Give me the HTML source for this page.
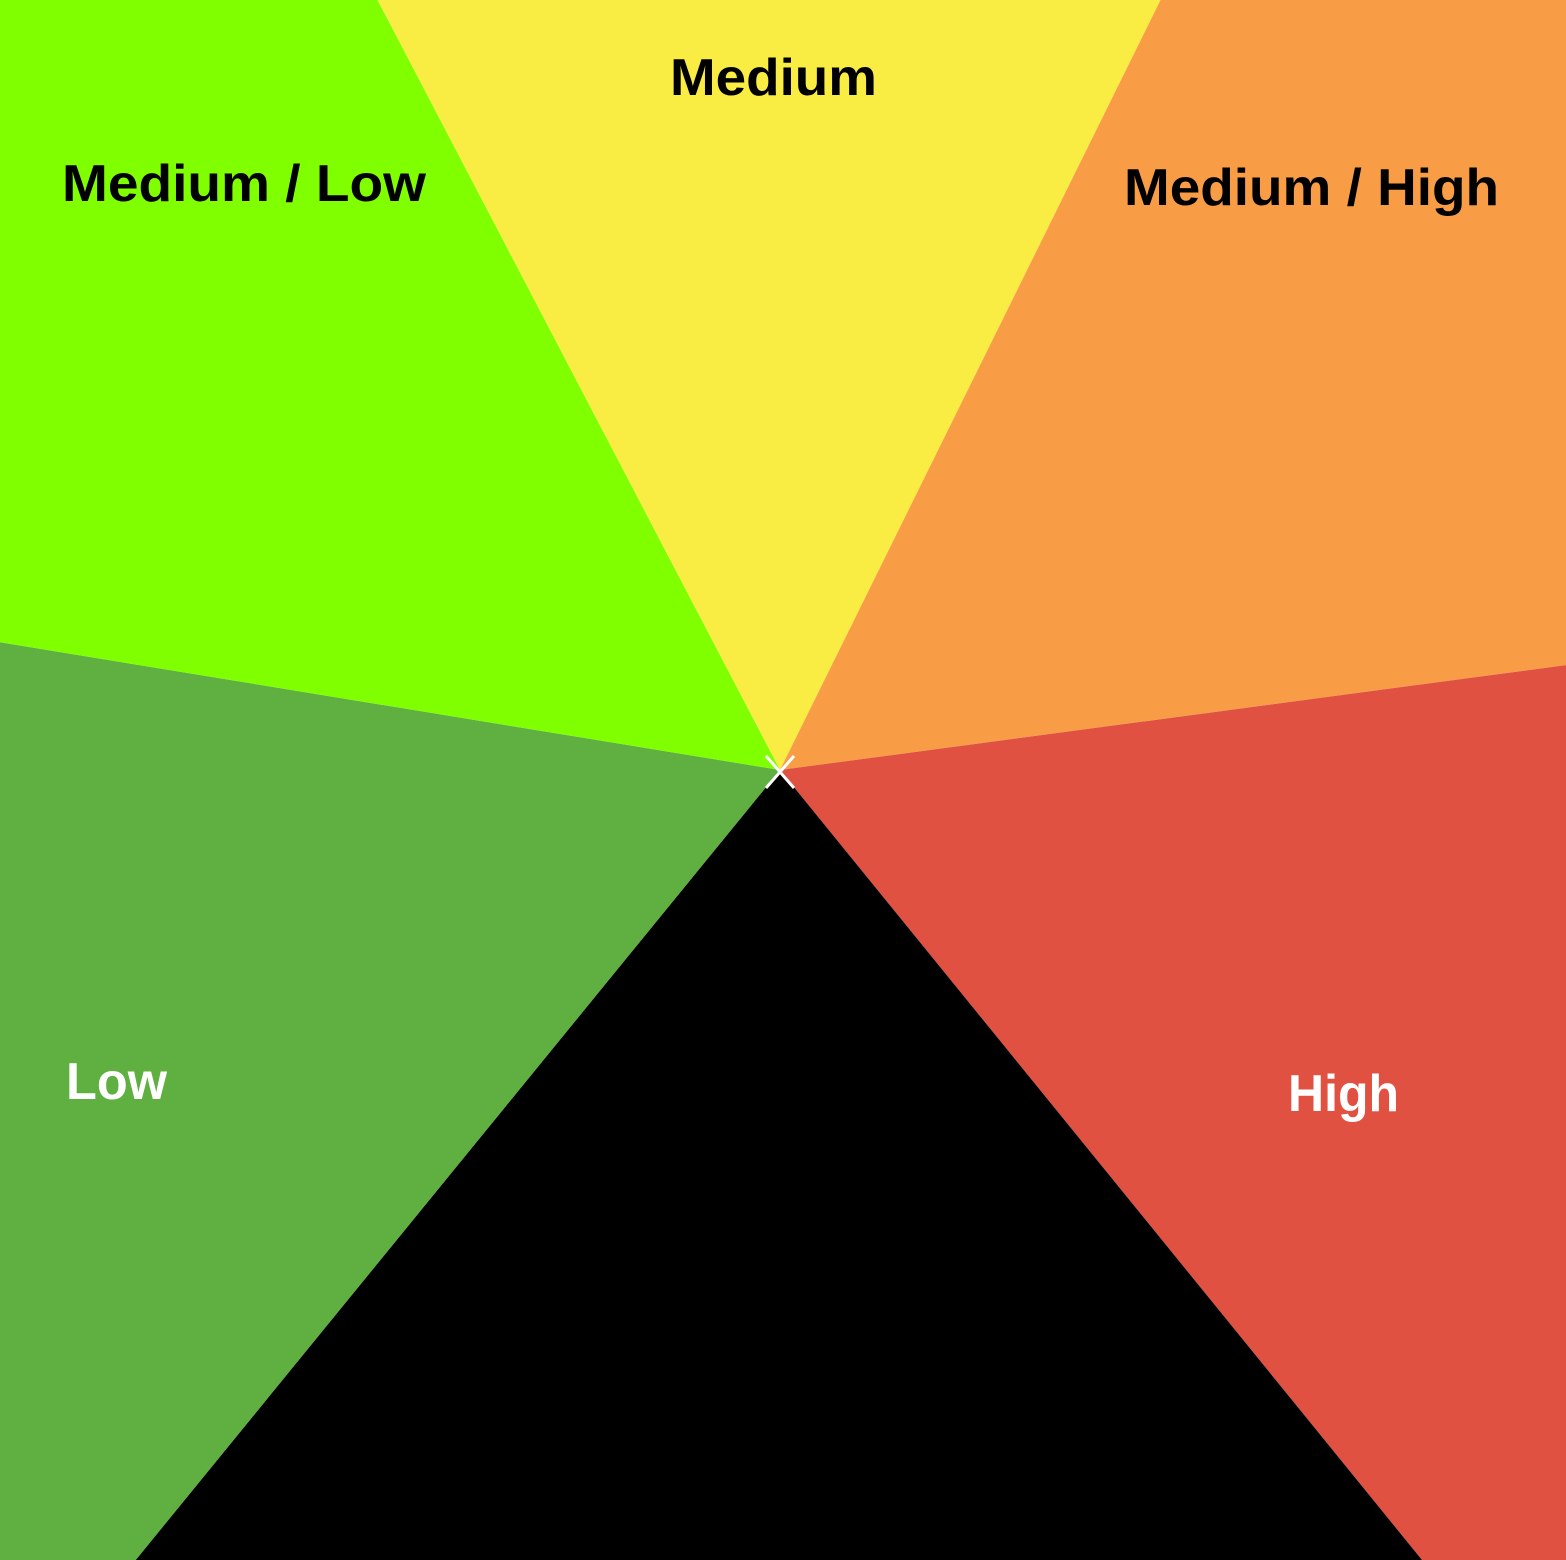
<!DOCTYPE html>
<html>
<head>
<meta charset="utf-8">
<style>
html,body{margin:0;padding:0;background:#fff;width:1566px;height:1560px;overflow:hidden;}
svg{display:block;overflow:hidden;}
text{font-family:"Liberation Sans",sans-serif;font-weight:bold;}
</style>
</head>
<body>
<svg id="chart" width="1566" height="1560" viewBox="0 0 1566 1560" xmlns="http://www.w3.org/2000/svg">
  <g id="slices"></g>
  <g id="labels">
    <text x="670" y="95" font-size="52" fill="#000" textLength="207" lengthAdjust="spacingAndGlyphs">Medium</text>
    <text x="62" y="201" font-size="52" fill="#000" textLength="364" lengthAdjust="spacingAndGlyphs">Medium / Low</text>
    <text x="1124" y="205" font-size="52" fill="#000" textLength="375" lengthAdjust="spacingAndGlyphs">Medium / High</text>
    <text x="66" y="1099" font-size="52" fill="#fff" textLength="101" lengthAdjust="spacingAndGlyphs">Low</text>
    <text x="1288" y="1111" font-size="52" fill="#fff" textLength="111" lengthAdjust="spacingAndGlyphs">High</text>
  </g>
  <g stroke="#fff" stroke-width="3">
    <line x1="766" y1="756" x2="794" y2="788"/>
    <line x1="794" y1="756" x2="766" y2="788"/>
  </g>
</svg>
<script>
// Slice data (degrees of arc), drawn clockwise starting from startAngle (math convention, y up)
const categories = ["Medium", "Medium / High", "High", "Hidden", "Low", "Medium / Low"];
const values = [53.9, 56.1, 58.5, 78.3, 60.1, 53.1];
const colors = ["#F9EC42", "#F89D45", "#E05142", "#000000", "#5FAF41", "#80FF00"];
const startAngle = 117.6;

const W = 1566, H = 1560;
const cx = 780, cy = 770;
const total = values.reduce((a, b) => a + b, 0);
const g = document.getElementById('slices');

function norm(d) { d = d % 360; return d < 0 ? d + 360 : d; }
function rayHit(deg) {
  const r = deg * Math.PI / 180;
  const dx = Math.cos(r), dy = -Math.sin(r);
  let t = Infinity;
  if (dx > 1e-9) t = Math.min(t, (W - cx) / dx);
  if (dx < -1e-9) t = Math.min(t, (0 - cx) / dx);
  if (dy > 1e-9) t = Math.min(t, (H - cy) / dy);
  if (dy < -1e-9) t = Math.min(t, (0 - cy) / dy);
  return [cx + dx * t, cy + dy * t];
}
const corners = [[0, 0], [W, 0], [W, H], [0, H]].map(p => ({
  p: p, a: norm(Math.atan2(cy - p[1], p[0] - cx) * 180 / Math.PI)
}));

let a0 = startAngle;
values.forEach((v, i) => {
  const sweep = v / total * 360;
  const a1 = a0 - sweep;
  const pts = [[cx, cy], rayHit(a0)];
  // corners strictly inside the wedge, ordered clockwise (decreasing angle from a0)
  const inside = corners
    .map(c => ({ p: c.p, d: norm(a0 - c.a) }))
    .filter(c => c.d > 0 && c.d < sweep)
    .sort((m, n) => m.d - n.d);
  inside.forEach(c => pts.push(c.p));
  pts.push(rayHit(a1));
  const poly = document.createElementNS('http://www.w3.org/2000/svg', 'polygon');
  poly.setAttribute('points', pts.map(p => p[0].toFixed(2) + ',' + p[1].toFixed(2)).join(' '));
  poly.setAttribute('fill', colors[i]);
  
  
  g.appendChild(poly);
  a0 = a1;
});
</script>
</body>
</html>
